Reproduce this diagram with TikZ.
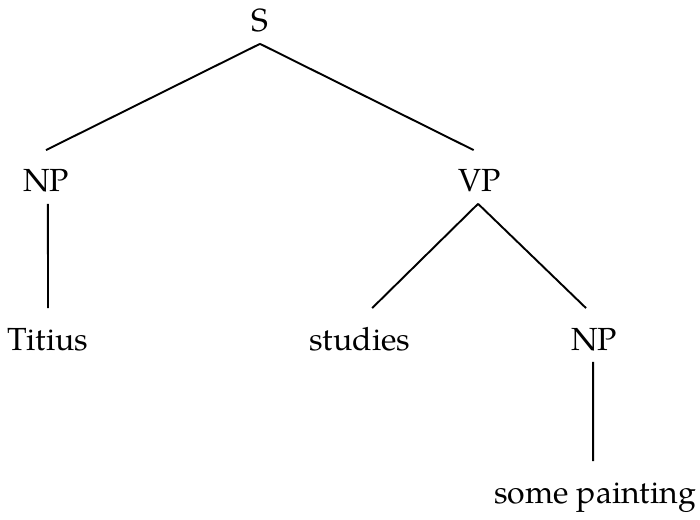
\documentclass[tikz,border=0pt]{standalone}
\usepackage{fontspec}
\setmainfont{TeX Gyre Pagella}
\begin{document}
\begin{tikzpicture}[x=0.3125pt,y=-0.3125pt,line width=0.6pt,
	cat/.style={anchor=base,inner sep=0pt,text height=12.8pt,text depth=3.4pt}]
	\useasboundingbox (0,0) rectangle (700,519);
	%nodes
	\node[cat] (s) at (260,32) {S};
	\node[cat] (np) at (46,192) {NP};
	\node[cat] (vp) at (480,192) {VP};
	\node[cat] (titius) at (48,350) {Titius};
	\node[cat] (studies) at (360,350) {studies};
	\node[cat] (npb) at (594,350) {NP};
	\node[cat] (paint) at (595,503) {some painting};
	%edges
	\draw (s.south) -- (np.north);
	\draw (s.south) -- ([xshift=-2pt]vp.north);
	\draw ([xshift=0.6pt]np.south) -- (titius.north);
	\draw ([xshift=-0.6pt]vp.south) -- ([xshift=3.8pt]studies.north);
	\draw ([xshift=-0.6pt]vp.south) -- ([xshift=-2.5pt]npb.north);
	\draw ([xshift=-0.3pt]npb.south) -- ([xshift=-0.6pt]paint.north);
\end{tikzpicture}
\end{document}
